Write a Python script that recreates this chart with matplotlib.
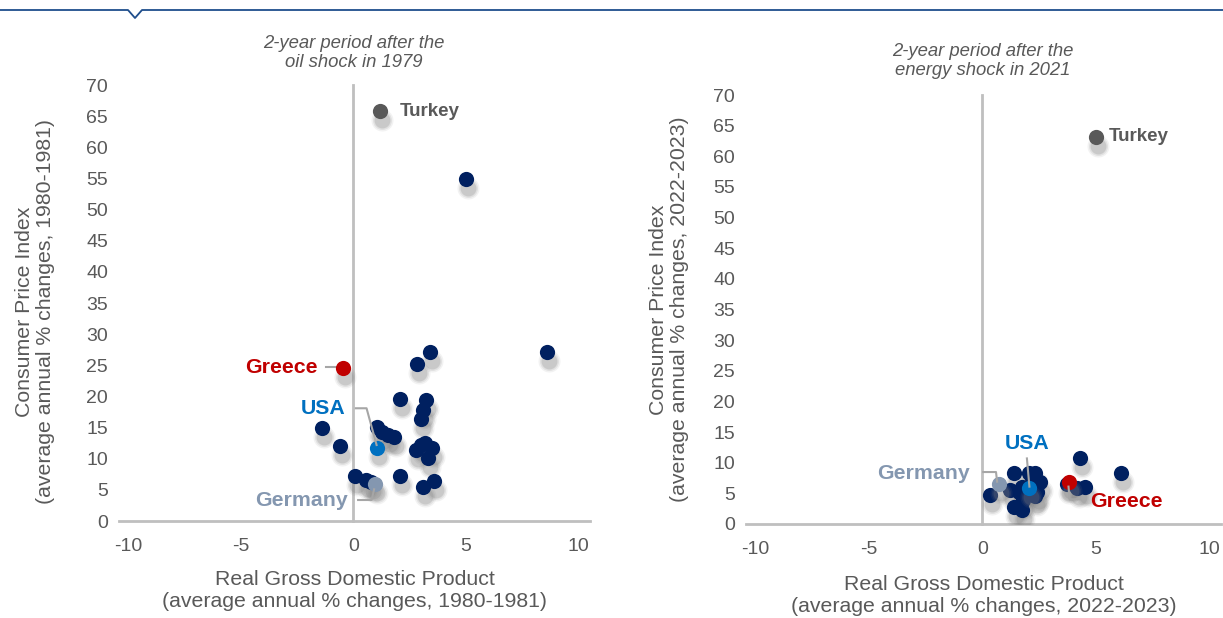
import matplotlib
matplotlib.use("Agg")
import matplotlib.pyplot as plt
from matplotlib.lines import Line2D
from matplotlib.transforms import offset_copy, blended_transform_factory

plt.rcParams['font.family'] = ['Liberation Sans', 'DejaVu Sans']
plt.rcParams['axes.unicode_minus'] = False

# ---------------- data ----------------
# Left panel: 1980-1981 (other countries)
gdp_80 = [5.0, 8.6, 3.38, 2.83, 2.09, 3.22, 3.1, 3.02, -1.37, 1.07, 1.25, 1.55, 1.81,
          -0.6, 2.8, 3.17, 3.47, 3.33, 3.02, 0.07, 0.58, 0.8, 2.09, 3.57, 3.1]
cpi_80 = [54.9, 27.1, 27.1, 25.2, 19.6, 19.4, 17.8, 16.3, 15.0, 15.1, 14.3, 13.8, 13.5,
          12.1, 11.4, 12.5, 11.7, 10.1, 12.2, 7.2, 6.6, 6.3, 7.3, 6.5, 5.4]
# Right panel: 2022-2023 (other countries)
gdp_22 = [4.28, 6.1, 1.38, 2.05, 2.33, 0.32, 1.6, 1.75, 2.4, 2.55, 1.38, 1.74, 1.8,
          3.72, 4.53, 4.16, 2.2, 1.2, 2.3]
cpi_22 = [10.8, 8.3, 8.4, 8.3, 8.4, 4.7, 5.3, 6.0, 5.3, 6.9, 2.8, 2.3, 3.9,
          6.6, 6.1, 5.8, 7.5, 5.5, 4.6]

highlight_names = ['Turkey', 'Greece', 'USA', 'Germany']
highlight_colors = ['#595959', '#C00000', '#0070C0', '#8497B0']
hl_gdp_80 = [1.18, -0.45, 1.03, 0.95]
hl_cpi_80 = [65.8, 24.6, 11.8, 5.9]
hl_gdp_22 = [5.0, 3.8, 2.07, 0.72]
hl_cpi_22 = [63.1, 6.9, 5.8, 6.5]

x_ticks = [-10, -5, 0, 5, 10]
y_ticks = list(range(0, 75, 5))

titles = ['2-year period after the\noil shock in 1979',
          '2-year period after the\nenergy shock in 2021']
xlabels = ['Real Gross Domestic Product\n(average annual % changes, 1980-1981)',
           'Real Gross Domestic Product\n(average annual % changes, 2022-2023)']
ylabels = ['Consumer Price Index\n(average annual % changes, 1980-1981)',
           'Consumer Price Index\n(average annual % changes, 2022-2023)']

NAVY = '#002060'
GREY_TXT = '#595959'
AXIS_GREY = '#BFBFBF'
LEADER = '#A6A6A6'

W, H = 1223, 618
fig = plt.figure(figsize=(W / 100, H / 100), dpi=100)

def px_axes(left, right, bottom, top):
    return fig.add_axes([left / W, 1 - bottom / H, (right - left) / W, (bottom - top) / H])

axL = px_axes(119, 590, 521, 85)
axR = px_axes(746, 1221, 524, 95)

def style(ax, title, xl, yl, ylab_xy, xlab_y, title_y):
    ax.set_xlim(-10.4, 10.5)
    ax.set_ylim(0, 70)
    for s in ax.spines.values():
        s.set_visible(False)
    ax.axhline(0, color=AXIS_GREY, lw=2, zorder=1, clip_on=False)
    ax.plot([0, 0], [0, 70], color=AXIS_GREY, lw=2, zorder=1, clip_on=False)
    ax.set_xticks(x_ticks)
    ax.set_yticks(y_ticks)
    ax.tick_params(axis='x', length=0, pad=12, labelsize=14, labelcolor=GREY_TXT)
    ax.tick_params(axis='y', length=0, pad=8, labelsize=14, labelcolor=GREY_TXT)
    ax.set_xlabel(xl, fontsize=15.3, color=GREY_TXT, linespacing=1.2)
    ax.xaxis.set_label_coords(0.5, xlab_y)
    ax.xaxis.label.set_va('top')
    ax.set_ylabel(yl, fontsize=15.3, color=GREY_TXT, linespacing=1.15)
    ax.yaxis.set_label_coords(*ylab_xy)
    tr = blended_transform_factory(ax.transData, ax.transAxes)
    ax.text(0, title_y, title, transform=tr, ha='center', va='bottom',
            fontsize=13.3, style='italic', color=GREY_TXT, linespacing=1.15)

style(axL, titles[0], xlabels[0], ylabels[0], (-0.135, 0.48), -0.113, 1.032)
style(axR, titles[1], xlabels[1], ylabels[1], (-0.12, 0.5), -0.12, 1.037)

def scatter_with_shadow(ax, xs, ys, color, z):
    sh = offset_copy(ax.transData, fig=fig, x=2, y=-9, units='dots')
    for k, a in zip([2.1, 1.55, 1.1], [0.10, 0.15, 0.24]):
        ax.scatter(xs, ys, s=120 * k, color='#808080', alpha=a, lw=0,
                   transform=sh, zorder=z - 0.5)
    ax.scatter(xs, ys, s=120, color=color, lw=0, zorder=z)

scatter_with_shadow(axL, gdp_80, cpi_80, NAVY, 3)
scatter_with_shadow(axR, gdp_22, cpi_22, NAVY, 3)
for i in range(4):
    scatter_with_shadow(axL, [hl_gdp_80[i]], [hl_cpi_80[i]], highlight_colors[i], 4)
    scatter_with_shadow(axR, [hl_gdp_22[i]], [hl_cpi_22[i]], highlight_colors[i], 4)

lab_kw = dict(fontweight='bold', va='center')
# Left labels
axL.text(2.06, 65.8, 'Turkey', color=highlight_colors[0], fontsize=13.5, ha='left', **lab_kw)
axL.text(-1.57, 24.7, 'Greece', color=highlight_colors[1], fontsize=15.3, ha='right', **lab_kw)
axL.plot([-1.22, -0.73], [24.7, 24.7], color=LEADER, lw=1.5, zorder=2)
axL.text(-0.33, 18.1, 'USA', color=highlight_colors[2], fontsize=15.3, ha='right', **lab_kw)
axL.plot([0.11, 0.585, 1.03], [18.1, 18.1, 12.2], color=LEADER, lw=1.5, zorder=5)
axL.text(-0.24, 3.3, 'Germany', color=highlight_colors[3], fontsize=15.3, ha='right', **lab_kw)
axL.plot([0.21, 0.81, 0.92], [3.37, 3.37, 5.09], color=LEADER, lw=1.5, zorder=5)
# Right labels
axR.text(5.54, 63.3, 'Turkey', color=highlight_colors[0], fontsize=13.5, ha='left', **lab_kw)
axR.text(4.75, 3.75, 'Greece', color=highlight_colors[1], fontsize=15.3, ha='left', **lab_kw)
axR.plot([3.79, 3.84, 4.31], [6.1, 4.03, 4.03], color=LEADER, lw=1.5, zorder=5)
axR.text(1.98, 13.2, 'USA', color=highlight_colors[2], fontsize=15.3, ha='center', **lab_kw)
axR.plot([1.96, 2.07], [10.7, 6.1], color=LEADER, lw=1.5, zorder=5)
axR.text(-0.53, 8.3, 'Germany', color=highlight_colors[3], fontsize=15.3, ha='right', **lab_kw)
axR.plot([0.04, 0.6, 0.65], [8.48, 8.48, 6.9], color=LEADER, lw=1.5, zorder=5)

# Top decorative rule with notch
LINEC = '#1F4E8C'
yy = 1 - 10 / H
fig.add_artist(Line2D([0, 128 / W, 135 / W, 142 / W, 1],
                      [yy, yy, 1 - 18 / H, yy, yy],
                      transform=fig.transFigure, color=LINEC, lw=1.3))

fig.savefig('out.png', dpi=100)
